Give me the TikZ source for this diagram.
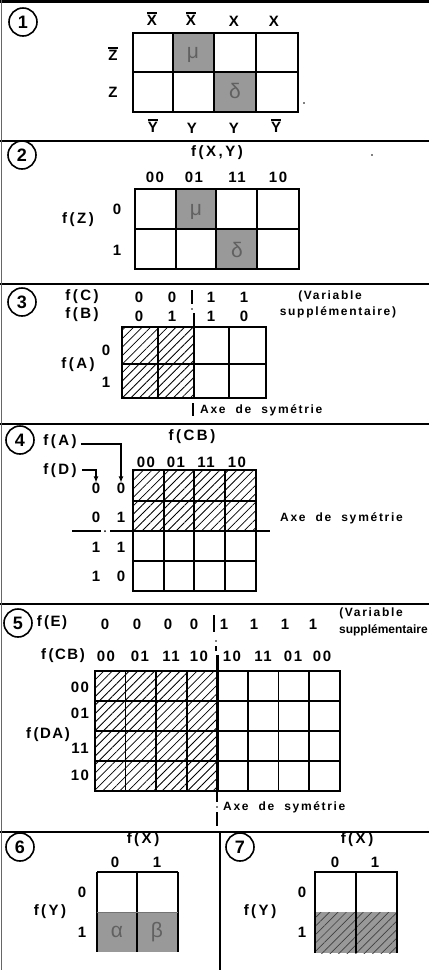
\documentclass[tikz,border=0pt]{standalone}
\usepackage{fontspec}
\setmainfont{Liberation Sans}
\newfontfamily\labfont[LetterSpace=10]{Liberation Sans}
\newfontfamily\smlfont[LetterSpace=14]{Liberation Sans}
\newfontfamily\grkfont{Liberation Sans}
\usetikzlibrary{patterns.meta,arrows.meta}
\newcommand{\ovl}[1]{\vbox{\hrule height 1.5pt\kern1.8pt\hbox{#1}}}
\tikzset{
 lab/.style={font=\labfont\bfseries\fontsize{15}{15}\selectfont, inner sep=0pt},
 sml/.style={font=\smlfont\bfseries\fontsize{12}{12}\selectfont, inner sep=0pt},
 sepline/.style={line width=2.4pt},
 gridl/.style={line width=1.5pt},
 axisl/.style={line width=2.8pt},
 num/.style={circle, draw, line width=1.6pt, minimum size=28pt, inner sep=0pt, font=\bfseries\fontsize{18}{18}\selectfont},
 shadecell/.style={fill=black!40},
 hatch/.style={pattern={Lines[angle=45,distance=6pt,line width=0.8pt]}},
 hatchg/.style={pattern={Lines[angle=45,distance=6pt,line width=0.7pt]},pattern color=black!75},
 greek/.style={text=black!62, font=\grkfont\fontsize{21}{21}\selectfont, inner sep=0pt},
 arr/.style={line width=1.4pt,-{Latex[length=6pt,width=5pt]}}
}
\begin{document}
\begin{tikzpicture}[x=1pt,y=-1pt]
\useasboundingbox (0,0) rectangle (429,970);
\fill[white] (0,0) rectangle (429,970);
% frame lines
\draw[sepline] (0,1.5) -- (429,1.5);
\draw[sepline] (0,141) -- (429,141);
\draw[sepline] (0,284) -- (429,284);
\draw[sepline] (0,424) -- (429,424);
\draw[sepline] (0,604) -- (429,604);
\draw[sepline] (0,832) -- (429,832);
\draw[line width=1pt,black!60] (1,0) -- (1,970);
\draw[line width=1.8pt] (220,832) -- (220,970);

% ===== Panel 1 =====
\node[num] (c1) at (23,22) {1};
\fill[shadecell] (173,33) rectangle (214,72);
\fill[shadecell] (214,72) rectangle (256,112);
\draw[gridl] (133,33) rectangle (298,112);
\draw[gridl] (133,72) -- (298,72);
\foreach \x in {173,214,256} \draw[gridl] (\x,33) -- (\x,112);
\node[greek] (p1mu) at (193,55) {μ};
\node[greek] (p1de) at (235,91) {δ};
\node[lab] (p1x1) at (152,19) {\ovl{X}};
\node[lab] (p1x2) at (191,19) {\ovl{X}};
\node[lab] (p1x3) at (234,21) {X};
\node[lab] (p1x4) at (274,21) {X};
\node[lab] (p1z1) at (113,54) {\ovl{Z}};
\node[lab] (p1z2) at (113,92) {Z};
\node[lab] (p1y1) at (153,126) {\ovl{Y}};
\node[lab] (p1y2) at (192,128) {Y};
\node[lab] (p1y3) at (234,128) {Y};
\node[lab] (p1y4) at (276,126) {\ovl{Y}};
\fill (304,103) circle (0.8);

% ===== Panel 2 =====
\node[num] (c2) at (22,155) {2};
\fill[shadecell] (176,189) rectangle (216,229);
\fill[shadecell] (216,229) rectangle (257,269);
\draw[gridl] (135,189) rectangle (299,269);
\draw[gridl] (135,229) -- (299,229);
\foreach \x in {176,216,257} \draw[gridl] (\x,189) -- (\x,269);
\node[greek] (p2mu) at (196,212) {μ};
\node[greek] (p2de) at (237,250) {δ};
\node[lab] (p2t) at (217,153) {f\,(\,X\,,\,Y\,)};
\node[lab] (p2c1) at (155,177) {00};
\node[lab] (p2c2) at (194,177) {01};
\node[lab] (p2c3) at (237,177) {11};
\node[lab] (p2c4) at (278,177) {10};
\node[lab] (p2r1) at (117,209) {0};
\node[lab] (p2r2) at (117,250) {1};
\node[lab] (p2f) at (78,220) {f\,(\,Z\,)};
\fill (372,155) circle (0.8);

% ===== Panel 3 =====
\node[num] (c3) at (22,302) {3};
\node[lab] (p3fc) at (82,297) {f\,(\,C\,)};
\node[lab] (p3fb) at (82,315) {f\,(\,B\,)};
\foreach \x/\a/\b [count=\i] in {139/0/0,172/0/1,211/1/1,244/1/0}{
  \node[lab] (p3c\i) at (\x,297) {\a};
  \node[lab] (p3b\i) at (\x,316) {\b};
}
\draw[line width=1.3pt] (192,290) -- (192,304);
\fill (192,309) circle (0.9);
\node[sml] (p3v1) at (330,296) {(Variable};
\node[sml] (p3v2) at (338,312) {supplémentaire)};
\fill[hatch] (122,327) rectangle (194,398);
\draw[gridl] (122,327) rectangle (266,398);
\draw[gridl] (122,364) -- (266,364);
\foreach \x in {158,229} \draw[gridl] (\x,327) -- (\x,398);
\draw[axisl] (194,313) -- (194,398);
\node[lab] (p3r0) at (106,350) {0};
\node[lab] (p3fa) at (78,365) {f\,(\,A\,)};
\node[lab] (p3r1) at (106,382) {1};
\draw[line width=1.3pt] (193,403) -- (193,416);
\node[sml,anchor=west] (p3ax) at (200,410) {Axe\ \ de\ \ symétrie};

% ===== Panel 4 =====
\node[num] (c4) at (20,440) {4};
\node[lab] (p4fa) at (60,442) {f\,(\,A\,)};
\node[lab] (p4fd) at (60,471) {f\,(\,D\,)};
\node[lab] (p4fcb) at (192,437) {f\,(\,C\,B\,)};
\node[lab] (p4c1) at (146,462) {00};
\node[lab] (p4c2) at (176,462) {01};
\node[lab] (p4c3) at (206,462) {11};
\node[lab] (p4c4) at (237,462) {10};
\foreach \y/\d/\a [count=\i] in {488/0/0,517/0/1,547/1/1,576/1/0}{
  \node[lab] (p4d\i) at (96,\y) {\d};
  \node[lab] (p4a\i) at (121,\y) {\a};
}
\draw[arr] (p4fa.east) ++(4,2) -| (p4a1.north);
\draw[arr] (p4fd.east) ++(5,-1) -| (p4d1.north);
\fill[hatch] (133,470) rectangle (256,531);
\draw[gridl] (133,470) rectangle (256,591);
\foreach \y in {501,561} \draw[gridl] (133,\y) -- (256,\y);
\foreach \x in {164,194,225} \draw[gridl] (\x,470) -- (\x,591);
\draw[axisl] (133,531) -- (256,531);
\draw[line width=1.2pt] (72,531) -- (101,531);
\fill (105,531) circle (1);
\draw[line width=1.2pt] (110,531) -- (133,531) (256,531) -- (270,531);
\node[sml,anchor=west] (p4ax) at (280,518) {Axe\ \ de\ \ sy\,métrie};

% ===== Panel 5 =====
\node[num] (c5) at (18,623) {5};
\node[lab] (p5fe) at (52,623) {f\,(E)};
\foreach \x/\v [count=\i] in {105/0,137/0,168/0,194/0,224/1,254/1,285/1,313/1}
  \node[lab] (p5e\i) at (\x,624) {\v};
\draw[line width=1.3pt] (214,615) -- (214,632);
\node[sml] (p5v1) at (371,613) {(Variable};
\node[sml,anchor=east,font=\bfseries\fontsize{12}{12}\selectfont] (p5v2) at (428,630) {supplémentaire};
\node[lab] (p5fcb) at (63,656) {f\,(CB)};
\foreach \x/\v [count=\i] in {106/00,140/01,171/11,199/10,232/10,263/11,293/01,322/00}
  \node[lab] (p5c\i) at (\x,656) {\v};
\fill (216,641) circle (0.9);
\draw[line width=1.3pt] (216,646) -- (216,651);
\fill[hatch] (95,671) rectangle (217.4,791);
\draw[gridl] (95,671) rectangle (339.8,791);
\foreach \y in {701,731,761} \draw[gridl] (95,\y) -- (339.8,\y);
\foreach \i in {1,...,7} \draw[gridl] (95+30.6*\i,671) -- (95+30.6*\i,791);
\draw[axisl] (217.4,655) -- (217.4,791);
\draw[line width=1.3pt] (217,791) -- (217,802);
\fill (217,807) circle (0.9);
\draw[line width=1.3pt] (217,812) -- (217,826);
\node[lab] (p5r1) at (80,687) {00};
\node[lab] (p5r2) at (80,713) {01};
\node[lab] (p5fda) at (48,735) {f\,(DA)};
\node[lab] (p5r3) at (80,748) {11};
\node[lab] (p5r4) at (80,775) {10};
\node[sml,anchor=west] (p5ax) at (223,807) {Axe\ \ de\ \ symétrie};

% ===== Panel 6 =====
\node[num] (c6) at (20,847) {6};
\node[lab] (p6fx) at (143,840) {f\,(\,X\,)};
\node[lab] (p6c0) at (115,862) {0};
\node[lab] (p6c1) at (157,862) {1};
\fill[shadecell] (97,912) rectangle (178,952);
\draw[gridl] (97,872) -- (178,872);
\draw[gridl] (97,872) -- (97,952) (137,872) -- (137,952) (178,872) -- (178,952);
\draw[line width=0.8pt,black!55] (97,912) -- (178,912);
\node[greek] (p6al) at (117,932) {α};
\node[greek] (p6be) at (157,932) {β};
\node[lab] (p6r0) at (82,892) {0};
\node[lab] (p6r1) at (82,932) {1};
\node[lab] (p6fy) at (50,912) {f\,(\,Y\,)};

% ===== Panel 7 =====
\node[num] (c7) at (240,847) {7};
\node[lab] (p7fx) at (357,840) {f\,(\,X\,)};
\node[lab] (p7c0) at (335,862) {0};
\node[lab] (p7c1) at (375,862) {1};
\fill[shadecell] (315,912) rectangle (397,953);
\fill[hatchg] (315,912) rectangle (397,953);
\draw[gridl] (315,953) -- (315,872) -- (397,872) -- (397,953);
\draw[gridl] (356,872) -- (356,953);
\node[lab] (p7r0) at (302,892) {0};
\node[lab] (p7r1) at (302,932) {1};
\node[lab] (p7fy) at (260,912) {f\,(\,Y\,)};
\end{tikzpicture}
\end{document}
